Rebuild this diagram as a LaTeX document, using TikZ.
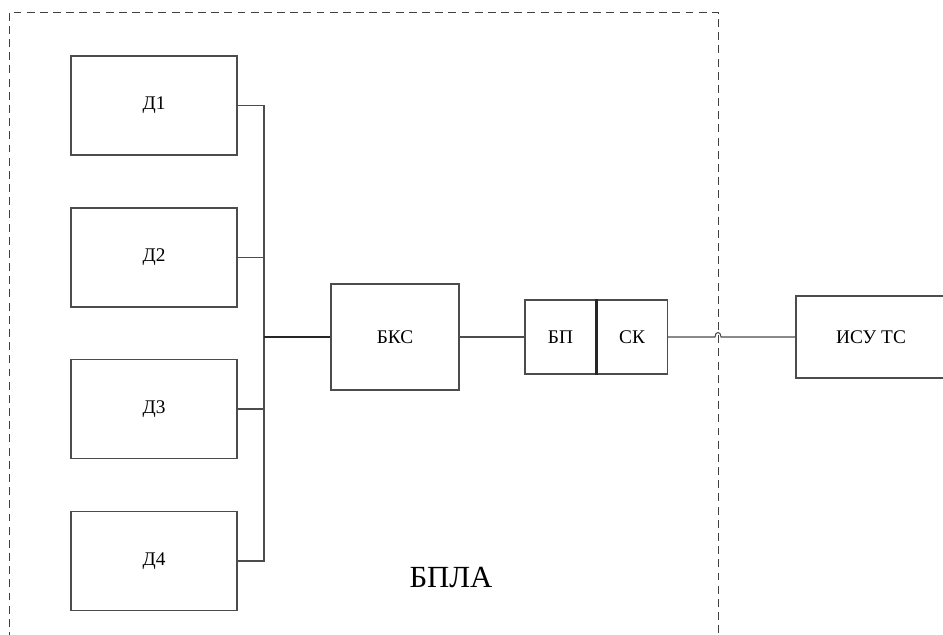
\documentclass[tikz,border=0pt]{standalone}
\usepackage{fontspec}
\setmainfont{Liberation Serif}
\begin{document}
\begin{tikzpicture}[x=.02cm,y=-.02cm,
		blk/.style={draw=black!70,line width=.6pt,inner sep=0pt,font=\fontsize{11}{12}\selectfont},
		dbox/.style={blk,minimum width=3.32cm,minimum height=1.98cm},
		wire/.style={draw=black!70,line width=.6pt},
		frame/.style={draw=black!75,line width=.5pt,dash pattern=on 4.5pt off 3pt}]
		\useasboundingbox (0,0) rectangle (943,635);
		\clip (0,0) rectangle (943,635);
		
		\draw [frame] (9,640) -- (9,12) -- (718,12) -- (718,640);
		\node (bpla) at (451,577) {\fontsize{17.5}{20}\selectfont БПЛА};
		
		\node [dbox] (d1) at (154,105.5) {Д1};
		\node [dbox] (d2) at (154,257.5) {Д2};
		\node [dbox] (d3) at (154,409) {Д3};
		\node [dbox] (d4) at (154,561) {Д4};
		
		\coordinate (bus) at (264,337);
		\draw [wire] (d1.east) -| (bus);
		\draw [wire] (d4.east) -| (bus);
		\draw [wire] (d2.east) -- (d2.east -| bus);
		\draw [wire] (d3.east) -- (d3.east -| bus);
		
		\node [blk,minimum width=2.56cm,minimum height=2.12cm] (bks) at (395,337) {БКС};
		\draw [wire,line width=.8pt,black!85] (bus) -- (bks.west);
		
		\node [blk,minimum width=1.42cm,minimum height=1.48cm] (bp) at (560.5,337) {БП};
		\node [blk,minimum width=1.40cm,minimum height=1.48cm,anchor=west] (sk) at (bp.east) {СК};
		\draw [line width=1.3pt,black!85] (bp.north east) -- (bp.south east);
		\draw [wire] (bks.east) -- (bp.west);
		
		\node [blk,minimum width=3cm,minimum height=1.64cm] (isu) at (871,337) {ИСУ ТС};
		\coordinate (jmpa) at (715,337); \coordinate (jmpb) at (721,337);
		\draw [wire] (sk.east) -- (jmpa) .. controls (715,331) and (721,331) .. (jmpb) -- (isu.west);
\end{tikzpicture}
\end{document}
